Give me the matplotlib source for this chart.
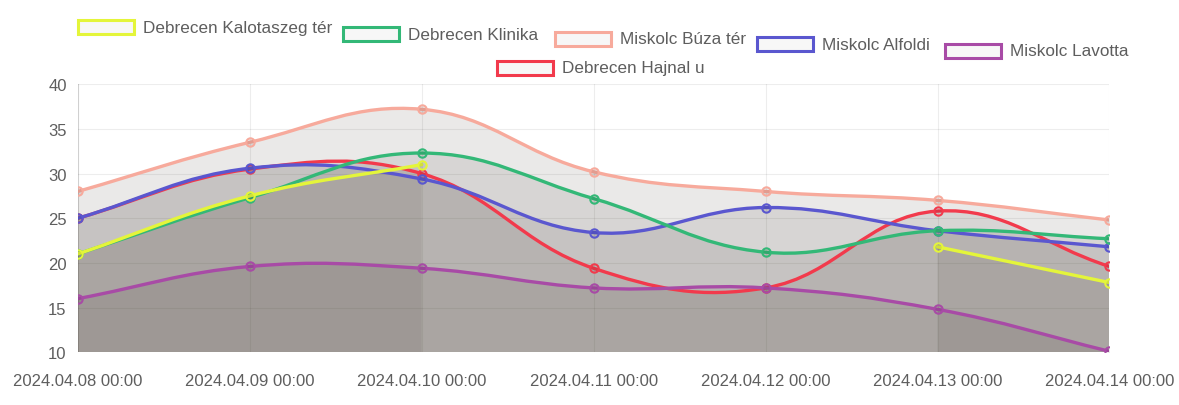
import numpy as np
import matplotlib.pyplot as plt
from matplotlib.path import Path
import matplotlib.patches as mpatches

plt.rcParams['font.family'] = ['Liberation Sans', 'DejaVu Sans']

dates = ["2024.04.08 00:00", "2024.04.09 00:00", "2024.04.10 00:00", "2024.04.11 00:00",
         "2024.04.12 00:00", "2024.04.13 00:00", "2024.04.14 00:00"]

kalotaszeg = [21.0, 27.5, 31.0, None, None, 21.8, 17.8]
klinika = [21.0, 27.3, 32.3, 27.2, 21.2, 23.6, 22.7]
buza = [28.0, 33.5, 37.2, 30.2, 28.0, 27.0, 24.8]
alfoldi = [25.0, 30.6, 29.4, 23.4, 26.2, 23.6, 21.8]
lavotta = [16.0, 19.6, 19.4, 17.2, 17.2, 14.8, 10.1]
hajnal = [25.0, 30.5, 30.0, 19.4, 17.2, 25.8, 19.6]

series = [
    ("Debrecen Kalotaszeg tér", kalotaszeg, "#e4f53a"),
    ("Debrecen Klinika", klinika, "#33b877"),
    ("Miskolc Búza tér", buza, "#f7aa9c"),
    ("Miskolc Alfoldi", alfoldi, "#5a57cf"),
    ("Miskolc Lavotta", lavotta, "#a84ba6"),
    ("Debrecen Hajnal u", hajnal, "#f23a4c"),
]

YMIN, YMAX = 10, 40
# pixel scale used to compute chart.js style bezier control points
SX, SY = 172.0, 8.9
TENSION = 0.4


def segments(vals):
    segs, cur = [], []
    for i, v in enumerate(vals):
        if v is None:
            if cur:
                segs.append(cur)
            cur = []
        else:
            cur.append((i, v))
    if cur:
        segs.append(cur)
    return segs


def spline_path(pts):
    p = np.array([[x * SX, y * SY] for x, y in pts])
    n = len(p)
    ctrl = []
    for i in range(n):
        prev = p[i - 1] if i > 0 else p[i]
        nxt = p[i + 1] if i < n - 1 else p[i]
        d01 = np.hypot(*(p[i] - prev))
        d12 = np.hypot(*(nxt - p[i]))
        tot = d01 + d12
        s01 = d01 / tot if tot else 0
        s12 = d12 / tot if tot else 0
        fa, fb = TENSION * s01, TENSION * s12
        ctrl.append((p[i] - fa * (nxt - prev), p[i] + fb * (nxt - prev)))
    verts = [p[0]]
    codes = [Path.MOVETO]
    for i in range(n - 1):
        verts += [ctrl[i][1], ctrl[i + 1][0], p[i + 1]]
        codes += [Path.CURVE4] * 3
    verts = [(v[0] / SX, v[1] / SY) for v in verts]
    return verts, codes


fig = plt.figure(figsize=(11.79, 4.06), dpi=100)
ax = fig.add_axes([0.066, 0.13, 0.875, 0.66])
ax.set_xlim(0, len(dates) - 1)
ax.set_ylim(YMIN, YMAX)
ax.set_axisbelow(True)

# chart.js draws the first dataset on top
n_series = len(series)
for k, (label, vals, color) in enumerate(series):
    z = 3 + (n_series - k)
    for seg in segments(vals):
        verts, codes = spline_path(seg)
        # fill to origin
        fv = verts + [(seg[-1][0], YMIN), (seg[0][0], YMIN), verts[0]]
        fc = codes + [Path.LINETO, Path.LINETO, Path.CLOSEPOLY]
        ax.add_patch(mpatches.PathPatch(Path(fv, fc), facecolor=(0.22, 0.18, 0.14, 0.1),
                                        edgecolor="none", zorder=1))
        ax.add_patch(mpatches.PathPatch(Path(verts, codes), facecolor="none",
                                        edgecolor=color, lw=2.4, zorder=z,
                                        capstyle="round"))
        xs = [s[0] for s in seg]
        ys = [s[1] for s in seg]
        ax.plot(xs, ys, "o", ms=6, mfc=(0, 0, 0, 0.08), mec=color, mew=1.5, zorder=z + 0.5)

ax.set_xticks(range(len(dates)))
ax.set_xticklabels(dates)
ax.set_yticks(range(YMIN, YMAX + 1, 5))
ax.grid(True, color="black", alpha=0.07, lw=0.8)
for s in ax.spines.values():
    s.set_visible(False)
ax.axvline(0, color="black", alpha=0.12, lw=0.8, zorder=0)
ax.tick_params(length=0, labelsize=12, labelcolor="#5e5e5e")
ax.tick_params(axis="x", pad=15)
ax.tick_params(axis="y", pad=8)

# chart.js style legend (hand placed, following the tilted scan)
legend_x = [78, 343, 555, 757, 945, 497]
legend_y = [28, 35, 40, 45, 52, 69]
W, H = 1179.0, 406.0
bw, bh = 56, 14
for (label, vals, color), lx, ly in zip(series, legend_x, legend_y):
    fig.patches.append(mpatches.Rectangle((lx / W, 1 - (ly + bh / 2) / H), bw / W, bh / H,
                                          transform=fig.transFigure,
                                          facecolor=(0, 0, 0, 0.03), edgecolor=color, lw=2.2))
    fig.text((lx + bw + 9) / W, 1 - ly / H, label, va="center", ha="left", fontsize=12.3,
             color="#5e5e5e")

fig.savefig("out.png", dpi=100, facecolor="white")
